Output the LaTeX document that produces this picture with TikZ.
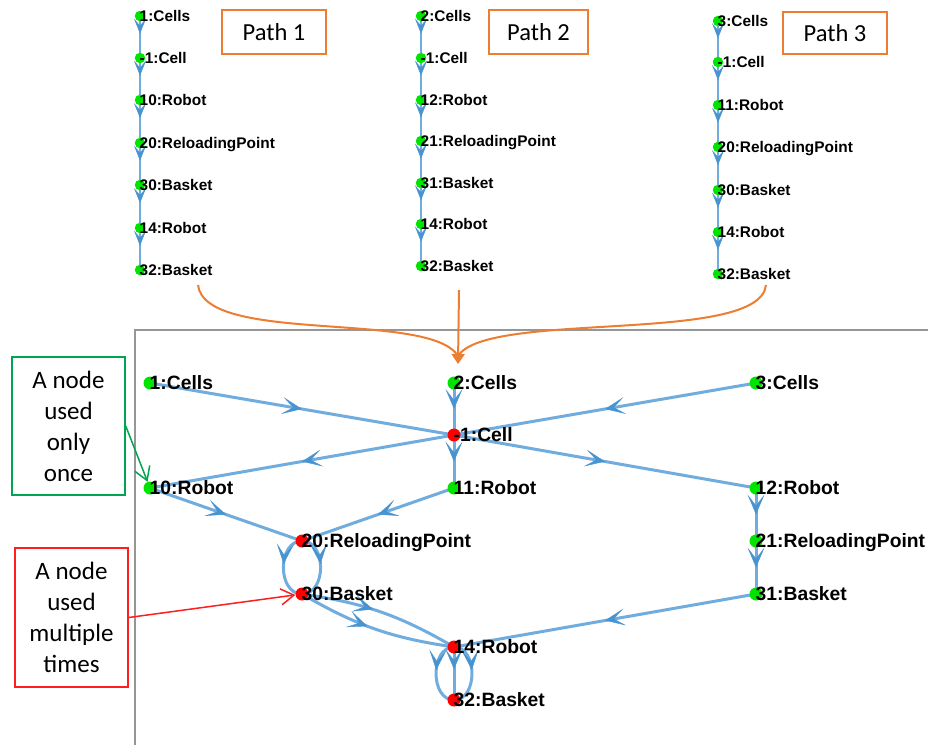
\documentclass[tikz,border=0pt]{standalone}
\usepackage{fontspec}
\setmainfont{Liberation Sans}
\newfontfamily\calib{Carlito}
\usetikzlibrary{arrows.meta,decorations.markings,backgrounds}
\definecolor{edgeblue}{RGB}{112,172,222}
\definecolor{arrowblue}{RGB}{72,148,208}
\definecolor{dotgreen}{RGB}{0,228,0}
\definecolor{dotred}{RGB}{255,0,0}
\definecolor{pathorange}{RGB}{237,125,49}
\definecolor{notegreen}{RGB}{0,165,80}
\definecolor{notered}{RGB}{255,30,30}
\definecolor{framegray}{RGB}{150,150,150}
\newcommand\topnode[4]{\node[tdot] (#1) at (#2,#3) {};
  \node[tlab] (#1-t) at ([xshift=-0.5pt,yshift=-5.5pt]#1.center) {#4};}
\newcommand\grnode[5]{\node[gdot,fill=#4] (#1) at (#2,#3) {};
  \node[glab] (#1-t) at ([xshift=-0.5pt,yshift=-6.9pt]#1.center) {#5};}
\begin{document}
\begin{tikzpicture}[x=1pt,y=-1pt,
  tdot/.style={circle,fill=dotgreen,inner sep=0pt,minimum size=10.5pt},
  gdot/.style={circle,inner sep=0pt,minimum size=13pt},
  tlab/.style={anchor=base west,inner sep=0pt,font=\bfseries\fontsize{15.4}{17}\selectfont},
  glab/.style={anchor=base west,inner sep=0pt,font=\bfseries\fontsize{19.3}{21}\selectfont},
  topedge/.style={draw=edgeblue,line width=2.5pt,postaction={decorate},
    decoration={markings,mark=at position 0.42 with {\arrow{Stealth[length=15pt,width=12pt,inset=7pt,color=arrowblue,line width=0.4pt]}}}},
  gedge/.style={draw=edgeblue,line width=3pt,postaction={decorate},
    decoration={markings,mark=at position #1 with {\arrow{Stealth[length=20pt,width=17pt,inset=11pt,color=arrowblue,line width=0.4pt]}}}},
  gedge/.default=0.5,
  pathbox/.style={draw=pathorange,line width=1.5pt,inner sep=0pt,font=\calib\fontsize{24.5}{28}\selectfont},
  notebox/.style={line width=1.5pt,inner sep=0pt,align=center,minimum width=113pt,
    font=\calib\fontsize{25}{31}\selectfont},
  orangeline/.style={draw=pathorange,line width=2pt},
]
\useasboundingbox (0,0) rectangle (928,745);

% frame of the merged graph
\draw[framegray,line width=1.3pt] (135,745) -- (135,330) -- (928,330);

% ---------- Path 1 ----------
\topnode{a1}{140}{16}{1:Cells}
\topnode{a2}{140}{58}{-1:Cell}
\topnode{a3}{140}{100}{10:Robot}
\topnode{a4}{140}{143}{20:ReloadingPoint}
\topnode{a5}{140}{185}{30:Basket}
\topnode{a6}{140}{228}{14:Robot}
\topnode{a7}{140}{270}{32:Basket}
% ---------- Path 2 ----------
\topnode{b1}{421}{16}{2:Cells}
\topnode{b2}{421}{58}{-1:Cell}
\topnode{b3}{421}{100}{12:Robot}
\topnode{b4}{421}{141}{21:ReloadingPoint}
\topnode{b5}{421}{183}{31:Basket}
\topnode{b6}{421}{224}{14:Robot}
\topnode{b7}{421}{266}{32:Basket}
% ---------- Path 3 ----------
\topnode{c1}{718}{21}{3:Cells}
\topnode{c2}{718}{62}{-1:Cell}
\topnode{c3}{718}{105}{11:Robot}
\topnode{c4}{718}{147}{20:ReloadingPoint}
\topnode{c5}{718}{190}{30:Basket}
\topnode{c6}{718}{232}{14:Robot}
\topnode{c7}{718}{274}{32:Basket}

\node[pathbox,minimum width=104pt,minimum height=44pt] (pb1) at (274,32) {Path 1};
\node[pathbox,minimum width=99pt,minimum height=44pt] (pb2) at (538.5,32) {Path 2};
\node[pathbox,minimum width=104pt,minimum height=42pt] (pb3) at (835,33) {Path 3};

% ---------- merged graph ----------
\grnode{g1}{150}{383}{dotgreen}{1:Cells}
\grnode{g2}{454}{383}{dotgreen}{2:Cells}
\grnode{g3}{756}{383}{dotgreen}{3:Cells}
\grnode{gm}{454}{435}{dotred}{-1:Cell}
\grnode{g10}{150}{488}{dotgreen}{10:Robot}
\grnode{g11}{454}{488}{dotgreen}{11:Robot}
\grnode{g12}{756}{488}{dotgreen}{12:Robot}
\grnode{g20}{302}{541}{dotred}{20:ReloadingPoint}
\grnode{g21}{756}{541}{dotgreen}{21:ReloadingPoint}
\grnode{g30}{302}{594}{dotred}{30:Basket}
\grnode{g31}{756}{594}{dotgreen}{31:Basket}
\grnode{g14}{454}{647}{dotred}{14:Robot}
\grnode{g32}{454}{700}{dotred}{32:Basket}

% annotation boxes
\node[notebox,draw=notegreen,minimum height=138pt] (ng) at (68.5,426) {A node\\used\\only\\once};
\node[notebox,draw=notered,minimum height=139pt] (nr) at (71.5,617.5) {A node\\used\\multiple\\times};

% orange merge arrows
\coordinate (o1s) at (198,285);
\coordinate (o2s) at (459,290);
\coordinate (o3s) at (766,285);
\coordinate (ojoin) at (458,356);
\coordinate (otip) at (458,364);

\begin{scope}[on background layer]
  \foreach \p in {a,b,c}{
    \foreach \i [evaluate=\i as \j using int(\i+1)] in {1,...,6}{
      \draw[topedge] (\p\i.center) -- (\p\j.center);
    }
  }
  \draw[gedge] (g1.center) -- (gm.center);
  \draw[gedge] (g2.center) -- (gm.center);
  \draw[gedge] (g3.center) -- (gm.center);
  \draw[gedge] (gm.center) -- (g10.center);
  \draw[gedge] (gm.center) -- (g11.center);
  \draw[gedge] (gm.center) -- (g12.center);
  \draw[gedge] (g10.center) -- (g20.center);
  \draw[gedge] (g11.center) -- (g20.center);
  \draw[gedge] (g12.center) -- (g21.center);
  \draw[gedge] (g21.center) -- (g31.center);
  \draw[gedge=0.45] (g20.center) to[bend left=90,looseness=1.2] (g30.center);
  \draw[gedge=0.45] (g20.center) to[bend right=90,looseness=1.2] (g30.center);
  \draw[gedge=0.45] (g30.center) to[bend left=11] (g14.center);
  \draw[gedge=0.45] (g30.center) to[bend right=11] (g14.center);
  \draw[gedge] (g31.center) -- (g14.center);
  \draw[gedge=0.42] (g14.center) -- (g32.center);
  \draw[gedge=0.45] (g14.center) to[bend left=90,looseness=1.16] (g32.center);
  \draw[gedge=0.45] (g14.center) to[bend right=90,looseness=1.16] (g32.center);
\end{scope}

\draw[orangeline] (o1s) .. controls (205,345) and (430,310) .. (ojoin);
\draw[orangeline] (o3s) .. controls (760,345) and (487,310) .. (ojoin);
\draw[orangeline,-{Triangle[length=10pt,width=13pt]}] (o2s) -- (otip);

\draw[notegreen,line width=1.5pt,-{Straight Barb[length=13pt,width=16pt]}] (ng.east) -- (g10);
\draw[notered,line width=1.5pt,-{Straight Barb[length=13pt,width=16pt]}] (nr.east) -- (g30);
\end{tikzpicture}
\end{document}
